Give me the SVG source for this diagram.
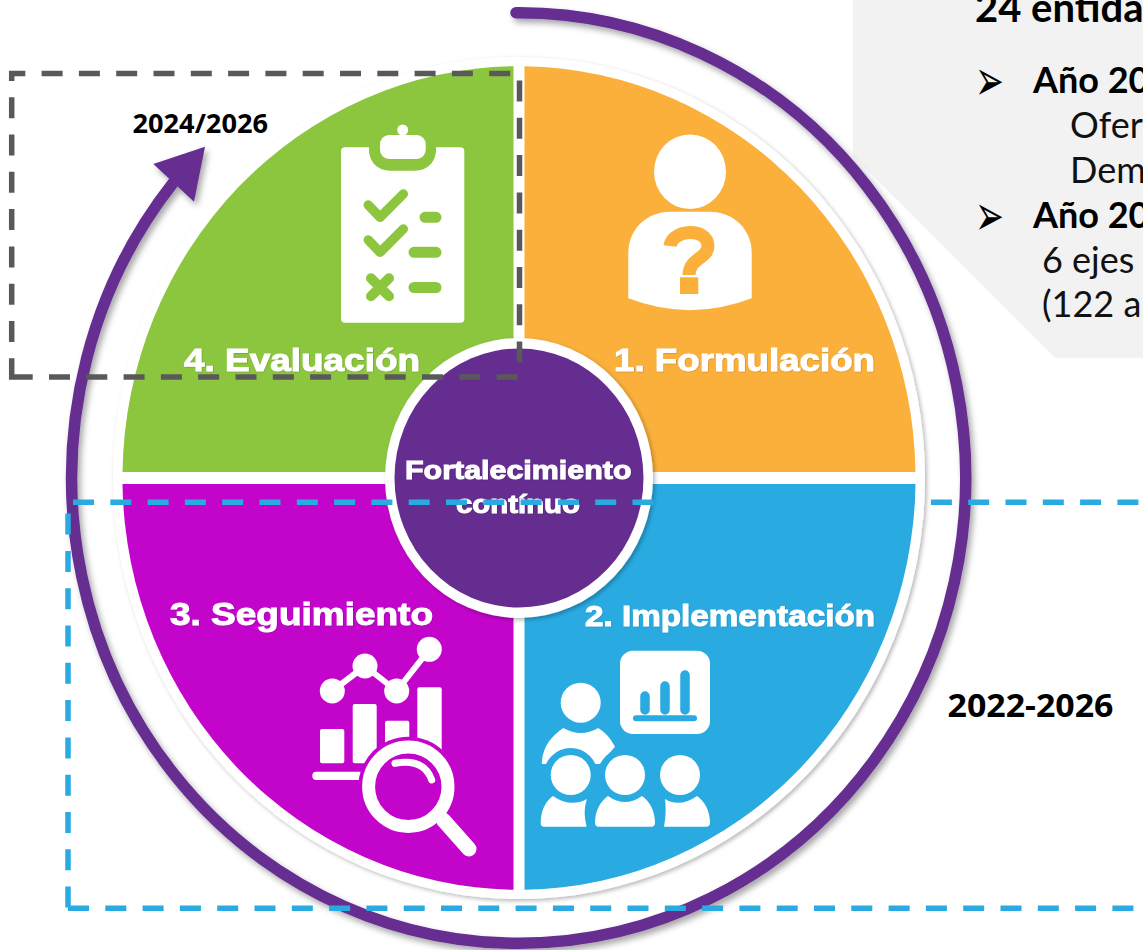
<svg xmlns="http://www.w3.org/2000/svg" width="1143" height="950" viewBox="0 0 1143 950">
<style>
.lbl{font-family:"Liberation Sans",Arial,sans-serif;font-weight:700;fill:#fff;stroke:#fff;stroke-width:1;filter:url(#ts)}
.yr{font-family:"Open Sans",sans-serif;font-weight:700;fill:#000}
.b{font-family:"Lato","Open Sans",sans-serif;font-size:36px;fill:#111}
.bb{font-weight:700;fill:#000}
.ar{font-family:"DejaVu Sans",sans-serif;font-size:30px;fill:#000}
.g{stroke:#8CC63F;fill:none;stroke-linecap:round;stroke-linejoin:round}
.w{fill:#fff}
.ws{stroke:#fff;fill:none;stroke-linecap:round;stroke-linejoin:round}
.bl{stroke:#29ABE2;fill:none;stroke-linecap:round}
</style>
<defs>
<filter id="sh" x="-10%" y="-10%" width="120%" height="120%"><feDropShadow dx="3" dy="4" stdDeviation="3" flood-color="#000" flood-opacity=".35"/></filter>
<filter id="sh2" x="-10%" y="-10%" width="120%" height="120%"><feDropShadow dx="2" dy="2" stdDeviation="2" flood-color="#000" flood-opacity=".28"/></filter>
<filter id="ts" x="-5%" y="-20%" width="110%" height="140%"><feDropShadow dx="0.5" dy="0.5" stdDeviation="0.6" flood-color="#000" flood-opacity=".25"/></filter>
</defs>
<rect width="1143" height="950" fill="#fff"/>
<g id="panel">
<polygon points="853,0 853,156 1055,358 1143,358 1143,0" fill="#F2F2F2"/>
<text x="975" y="22" font-family="Lato,'Open Sans',sans-serif" font-size="40" font-weight="700" fill="#000">24 entida</text>
<text class="ar" transform="translate(975 100) scale(1.15 1.9)">➢</text>
<text class="b bb" x="1033" y="93">Año 20</text>
<text class="b" x="1070" y="138">Ofer</text>
<text class="b" x="1070" y="183">Dem</text>
<text class="ar" transform="translate(975 235) scale(1.15 1.9)">➢</text>
<text class="b bb" x="1033" y="228">Año 20</text>
<text class="b" x="1042" y="273">6 ejes</text>
<text class="b" x="1042" y="317">(122 a</text>
</g>
<g id="cycle-disc">
<ellipse cx="519" cy="478" rx="406" ry="421" fill="#fff" filter="url(#sh2)"/>
</g>
<g id="cycle-arrow" filter="url(#sh)">
<path d="M516 12.7A447 465.3 0 1 1 173 183" fill="none" stroke="#662D91" stroke-width="11.5" stroke-linecap="round"/>
<polygon points="205,146.7 153.3,164 194,201.7" fill="#662D91"/>
</g>
<g id="q1-formulacion">
<path d="M524.5 472V66.2A397 412 0 0 1 915.5 472Z" fill="#FBB03B"/>
<ellipse class="w" cx="690" cy="171.7" rx="36" ry="37.3"/>
<path class="w" d="M628.3 298.3V253C628.3 228 648 211.7 670 211.7H710C732 211.7 751.7 228 751.7 253V298.3Q690 322 628.3 298.3Z"/>
<path d="M670 246C672 229 708 227 708 246C708 259 689 258 689 275" fill="none" stroke="#FBB03B" stroke-width="13"/>
<rect x="680" y="277.3" width="18.3" height="16.7" fill="#FBB03B"/>
<text class="lbl" x="614" y="371" font-size="31" textLength="261" lengthAdjust="spacingAndGlyphs">1. Formulación</text>
</g>
<g id="q2-implementacion">
<path d="M524.5 484V889.8A397 412 0 0 0 915.5 484Z" fill="#29ABE2"/>
<rect class="w" x="620" y="650.7" width="90" height="83.3" rx="13"/>
<path class="bl" stroke-width="9.5" d="M645 696V710M665 686V710M685 675V710"/>
<path class="bl" stroke-width="6" d="M636 718.3H694"/>
<circle class="w" cx="580.7" cy="702.7" r="20"/>
<path class="w" d="M541.7 762.7C543 745 553 735 563.3 728Q581 738 598.3 728C606 733 611 739 615 746.7L600 764H542Z"/>
<g fill="#29ABE2"><circle cx="570.7" cy="775" r="27"/><circle cx="625" cy="775" r="27"/></g>
<circle class="w" cx="570.7" cy="775" r="20"/><circle class="w" cx="625" cy="775" r="20"/><circle class="w" cx="680" cy="775" r="20"/>
<path class="w" d="M540.7 823C540.7 810 546 801 553 796Q570 808 587 799C584 808 584 816 586.7 826.7H544Q540.7 826.7 540.7 823Z"/>
<path class="w" d="M595 823C595 810 601 801 608 796Q625 808 642 796C649 801 655 810 655 823Q655 826.7 651 826.7H599Q595 826.7 595 823Z"/>
<path class="w" d="M665 799Q680 808 697 796C704 801 710 810 710 823Q710 826.7 706 826.7H664C666 816 666 808 665 799Z"/>
<text class="lbl" x="585" y="626" font-size="29" textLength="290" lengthAdjust="spacingAndGlyphs">2. Implementación</text>
</g>
<g id="q3-seguimiento">
<path d="M513.5 484V889.8A397 412 0 0 1 122.5 484Z" fill="#C305CB"/>
<path class="ws" stroke-width="6" d="M332.3 691L365 666L396.7 691L429.3 649.3"/>
<g class="w"><circle cx="332.3" cy="691" r="12.5"/><circle cx="365" cy="666" r="12.5"/><circle cx="396.7" cy="691" r="12.5"/><circle cx="429.3" cy="649.3" r="12.5"/>
<rect x="320" y="729" width="24.3" height="34.3" rx="2"/><rect x="352.7" y="704" width="24" height="59.3" rx="2"/><rect x="385" y="720.7" width="24.3" height="30" rx="2"/><rect x="417.3" y="687.3" width="24.4" height="70" rx="2"/><rect x="312.3" y="771.7" width="60" height="8.3" rx="4"/></g>
<circle cx="408.3" cy="786.7" r="50" fill="#C305CB"/>
<circle cx="408.3" cy="786.7" r="39.7" fill="#C305CB" stroke="#fff" stroke-width="13"/>
<path class="ws" stroke-width="7" d="M395 763.3Q424 758 431.7 780"/>
<path class="ws" stroke-width="15" d="M443.3 820L469 849"/>
<text class="lbl" x="170" y="625" font-size="31" textLength="263" lengthAdjust="spacingAndGlyphs">3. Seguimiento</text>
</g>
<g id="q4-evaluacion">
<path d="M513.5 472V66.2A397 412 0 0 0 122.5 472Z" fill="#8CC63F"/>
<rect class="w" x="341" y="147.3" width="123.3" height="175.4" rx="4"/>
<path d="M369 147V150C369 162 378 170.7 390 170.7H415C427 170.7 436 162 436 150V147Z" fill="#8CC63F"/>
<circle class="w" cx="402.7" cy="130" r="5.5"/>
<rect class="w" x="380" y="135" width="45.7" height="24" rx="9"/>
<path class="g" stroke-width="9.5" d="M368.3 205L380 217.3L403.3 194M368.3 240L380 252.3L403.3 229"/>
<path class="g" stroke-width="11" d="M425 217.3H436M414 252.3H436M414 287.5H436"/>
<path class="g" stroke-width="10" d="M371 278.3L389 296.3M389 278.3L371 296.3"/>
<text class="lbl" x="184" y="371" font-size="31" textLength="236" lengthAdjust="spacingAndGlyphs">4. Evaluación</text>
</g>
<g id="hub">
<ellipse cx="519" cy="478" rx="134" ry="140" fill="#fff" filter="url(#sh2)"/>
<ellipse cx="519" cy="478" rx="124.5" ry="129.5" fill="#662D91"/>
<text class="lbl" x="405" y="479" font-size="26" textLength="226.5" lengthAdjust="spacingAndGlyphs">Fortalecimiento</text>
<text class="lbl" x="456" y="512.5" font-size="26" textLength="124" lengthAdjust="spacingAndGlyphs">contínuo</text>
</g>
<g id="connectors" fill="none" stroke-width="5.5" stroke-dasharray="21 16.3">
<path d="M11.7 377H519.5V73.5H11.7Z" stroke="#595959"/>
<path d="M68 908.3H1164.85V502.3H68Z" stroke="#29ABE2"/>
</g>
<g id="year-labels">
<text class="yr" x="132.5" y="133" font-size="26.5" textLength="135.5" lengthAdjust="spacingAndGlyphs">2024/2026</text>
<text class="yr" x="947.5" y="717" font-size="32" textLength="166" lengthAdjust="spacingAndGlyphs">2022-2026</text>
</g>
</svg>
